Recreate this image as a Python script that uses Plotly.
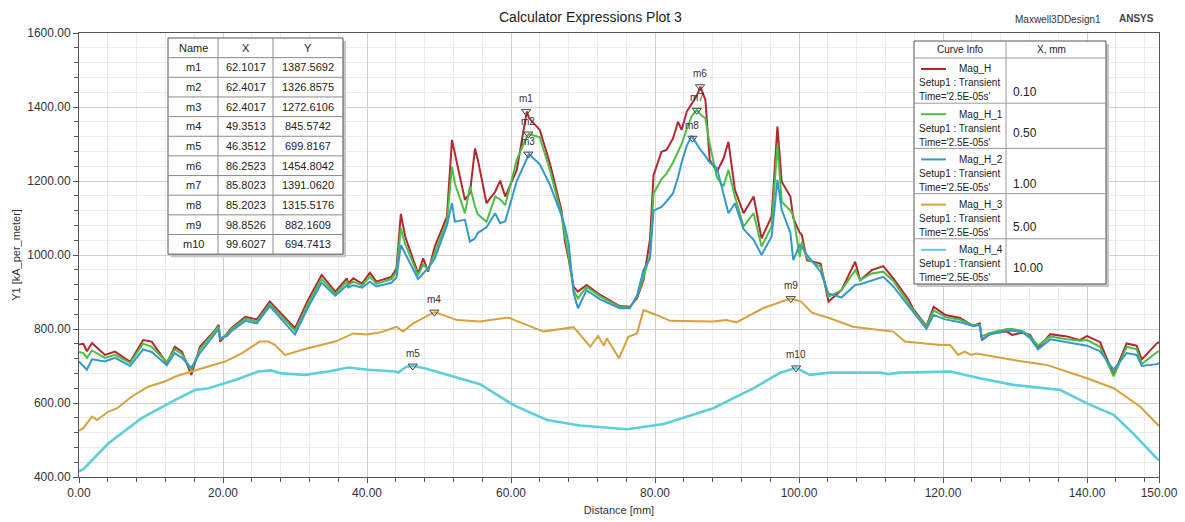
import plotly.graph_objects as go

# ---------------- data ----------------
distance_mm = [0, 0.6, 1.1, 1.8, 3.6, 5.0, 7.1, 8.9, 10.1, 12.2, 13.3, 14.3, 15.6, 16.8, 18.9, 19.4, 19.6,
               20.5, 21.2, 23.1, 24.7, 26.5, 30.0, 31.8, 33.7, 35.6, 37.2, 37.4, 38.1, 39.3, 40.4, 41.3,
               43.4, 44.1, 44.7, 45.3, 47.1, 47.8, 48.5, 49.4, 51.1, 51.8, 52.2, 53.6, 54.3, 55.0, 55.4,
               56.6, 57.8, 58.5, 59.2, 60.8, 62.2, 62.5, 64.0, 65.4, 67.0, 67.5, 68.0, 68.7, 69.3, 70.5,
               72.4, 75.1, 76.5, 77.5, 78.4, 79.3, 79.8, 80.9, 81.6, 82.5, 83.2, 83.7, 84.4, 85.1, 85.8,
               86.3, 87.0, 87.6, 88.6, 89.5, 90.2, 91.1, 92.3, 93.7, 94.8, 96.2, 97.0, 97.6, 98.8, 99.2,
               100.1, 100.4, 101.1, 103.0, 104.1, 105.9, 107.8, 108.5, 110.1, 111.7, 113.1, 115.2, 115.9,
               117.7, 118.7, 120.3, 122.4, 124.2, 125.1, 125.4, 126.6, 128.9, 129.6, 131.0, 132.1, 133.2,
               134.9, 137.2, 139.0, 140.0, 141.8, 143.7, 145.5, 146.9, 147.6, 149.7, 150.0]

mag_h = [758, 760, 740, 762, 730, 739, 711, 770, 766, 707, 752, 739, 676, 752, 797, 811, 766,
         788, 803, 833, 826, 874, 802, 878, 946, 901, 937, 923, 937, 923, 952, 928,
         941, 964, 1111, 1050, 950, 991, 955, 1022, 1104, 1311, 1275, 1149, 1167, 1288, 1257,
         1140, 1171, 1201, 1158, 1230, 1388, 1370, 1338, 1248, 1122, 1036, 990, 914, 901, 919,
         892, 862, 860, 883, 932, 1041, 1216, 1279, 1284, 1315, 1360, 1338, 1387, 1410, 1430,
         1455, 1419, 1257, 1225, 1260, 1306, 1176, 1113, 1158, 1045, 1104, 1347, 1198, 1158, 1100,
         1060, 1054, 986, 977, 874, 905, 982, 932, 959, 970, 937, 880, 853,
         808, 860, 838, 830, 808, 815, 770, 788, 793, 784, 790, 784, 748,
         786, 780, 770, 781, 765, 676, 761, 755, 718, 761, 765]

mag_h_1 = [738, 735, 722, 742, 722, 730, 708, 760, 752, 710, 745, 732, 688, 745, 795, 806, 772,
           785, 800, 828, 820, 868, 795, 868, 935, 895, 928, 918, 928, 918, 942, 922,
           935, 955, 1072, 1030, 945, 975, 960, 1005, 1090, 1239, 1194, 1113, 1185, 1131, 1110,
           1090, 1158, 1150, 1135, 1257, 1320, 1327, 1318, 1230, 1110, 1050, 1000, 905, 883, 914,
           888, 860, 858, 888, 940, 1000, 1167, 1205, 1220, 1250, 1280, 1300, 1340, 1375, 1393,
           1380, 1369, 1300, 1210, 1185, 1230, 1158, 1077, 1113, 1023, 1077, 1297, 1144, 1120, 1108,
           995, 1036, 990, 968, 887, 905, 959, 932, 950, 955, 930, 872, 850,
           805, 851, 832, 825, 810, 812, 780, 790, 800, 800, 795, 780, 755,
           780, 772, 768, 770, 752, 672, 752, 745, 705, 737, 740]

mag_h_2 = [712, 700, 690, 718, 712, 722, 700, 745, 738, 702, 735, 722, 695, 735, 790, 800, 775,
           780, 795, 822, 815, 862, 785, 858, 925, 890, 918, 912, 918, 912, 928, 915,
           925, 940, 1027, 1004, 935, 950, 965, 990, 1080, 1140, 1090, 1095, 1036, 1045, 1060,
           1075, 1113, 1086, 1091, 1200, 1260, 1273, 1245, 1190, 1108, 1075, 1032, 896, 856, 905,
           880, 856, 856, 890, 960, 990, 1120, 1130, 1145, 1167, 1210, 1250, 1295, 1322, 1300,
           1285, 1268, 1250, 1235, 1167, 1113, 1140, 1070, 1041, 1000, 1050, 1203, 1122, 1060, 986,
           1027, 1022, 1000, 955, 896, 885, 919, 921, 930, 941, 915, 862, 845,
           800, 838, 826, 818, 808, 810, 772, 786, 795, 795, 792, 775, 745,
           772, 765, 760, 755, 740, 690, 735, 730, 700, 705, 708]

distance_mm_3 = [0, 0.6, 1.8, 2.5, 4.1, 5.3, 7.3, 9.6, 11.9, 13.3, 15.6, 18.0, 20.3, 22.6, 25.1, 26.3,
                 27.2, 28.6, 31.8, 35.6, 38.1, 40.0, 41.9, 44.1, 45.0, 46.4, 49.4, 52.5, 55.7, 59.6,
                 64.5, 68.7, 71.0, 72.1, 72.9, 73.3, 75.0, 76.3, 77.5, 78.4, 80.2, 82.1, 88.1, 89.9,
                 91.3, 95.0, 98.8, 100.3, 101.8, 104.3, 107.5, 111.2, 113.1, 114.7, 119.6, 121.0,
                 122.1, 123.0, 123.9, 124.6, 129.8, 134.4, 140.0, 143.7, 147.4, 150.0]
mag_h_3 = [525, 532, 563, 554, 577, 586, 617, 644, 658, 671, 685, 698, 712, 734, 766, 766,
           757, 730, 748, 766, 788, 785, 791, 806, 793, 815, 846, 824, 820, 831,
           793, 805, 752, 781, 755, 775, 721, 779, 788, 851, 838, 822, 820, 824,
           818, 856, 882, 874, 844, 829, 806, 797, 793, 766, 757, 757,
           730, 739, 730, 734, 716, 703, 667, 640, 590, 538]

distance_mm_4 = [0, 0.6, 4.1, 8.7, 13.3, 16.1, 18.0, 21.7, 24.9, 26.7, 28.1, 31.4, 34.6, 37.4, 40.2,
                 43.9, 44.3, 45.5, 46.4, 48.0, 55.7, 60.3, 65.0, 69.6, 76.1, 81.2, 88.1, 93.7, 97.4,
                 99.6, 101.5, 104.4, 111.3, 112.4, 114.0, 121.0, 125.1, 129.8, 136.3, 140.0, 143.7,
                 146.4, 149.7, 150.0]
mag_h_4 = [415, 421, 491, 559, 608, 635, 640, 662, 685, 688, 680, 676, 685, 696, 690,
           685, 682, 698, 700, 694, 651, 595, 554, 539, 529, 543, 586, 640, 682,
           695, 676, 682, 682, 678, 682, 685, 667, 649, 635, 599, 568,
           518, 450, 445]

marker_names = ["m1", "m2", "m3", "m4", "m5", "m6", "m7", "m8", "m9", "m10"]
marker_x = [62.1017, 62.4017, 62.4017, 49.3513, 46.3512, 86.2523, 85.8023, 85.2023, 98.8526, 99.6027]
marker_y = [1387.5692, 1326.8575, 1272.6106, 845.5742, 699.8167, 1454.8042, 1391.0620, 1315.5176,
            882.1609, 694.7413]

curve_names = ["Mag_H", "Mag_H_1", "Mag_H_2", "Mag_H_3", "Mag_H_4"]
curve_x_mm = ["0.10", "0.50", "1.00", "5.00", "10.00"]
x_tick_vals = [0, 20, 40, 60, 80, 100, 120, 140, 150]
y_tick_vals = [400, 600, 800, 1000, 1200, 1400, 1600]

# ---------------- style ----------------
colors = ["#B5262E", "#4CBE44", "#3498CE", "#D9A03F", "#5CCFD9"]
widths = [2, 2, 2, 2, 2.6]
FONT = "Arial, Liberation Sans, sans-serif"
W, H = 1185, 522
PL, PT, PW, PH = 79, 33, 1080, 444


def px(x):
    return (x - PL) / PW


def py(y):
    return (PT + PH - y) / PH


def text(x, y, t, size=10, xanchor="center", color="#222222"):
    return dict(x=px(x), y=py(y), xref="paper", yref="paper", text=t, showarrow=False,
                xanchor=xanchor, yanchor="middle", font=dict(family=FONT, size=size, color=color))


fig = go.Figure()
series = [(distance_mm, mag_h), (distance_mm, mag_h_1), (distance_mm, mag_h_2),
          (distance_mm_3, mag_h_3), (distance_mm_4, mag_h_4)]
for (xs, ys), name, c, w in zip(series, curve_names, colors, widths):
    fig.add_trace(go.Scatter(x=xs, y=ys, mode="lines", name=name,
                             line=dict(color=c, width=w), showlegend=False))

fig.add_trace(go.Scatter(x=marker_x, y=marker_y, mode="markers", showlegend=False,
                         marker=dict(symbol="triangle-down-open", size=8,
                                     color="#444444", line=dict(width=1, color="#444444")),
                         cliponaxis=False))

annotations = []
for n, mx, my in zip(marker_names, marker_x, marker_y):
    annotations.append(dict(x=mx, y=my, xref="x", yref="y", text=n, showarrow=False,
                            yanchor="middle", yshift=13, font=dict(family=FONT, size=10, color="#333333")))

shapes = []
# ---- marker table ----
t_left, t_top, t_right = 168, 38, 343
row_h = 19.65
n_rows = len(marker_names) + 1
t_bottom = t_top + row_h * n_rows
col_x = [168, 218, 273, 343]
shapes.append(dict(type="rect", xref="paper", yref="paper", x0=px(t_left + 3), x1=px(t_right + 3),
                   y0=py(t_bottom + 3), y1=py(t_top + 3), fillcolor="#c8c8c8", line=dict(width=0)))
shapes.append(dict(type="rect", xref="paper", yref="paper", x0=px(t_left), x1=px(t_right),
                   y0=py(t_bottom), y1=py(t_top), fillcolor="white", line=dict(color="#555555", width=1)))
for i in range(1, n_rows):
    yy = t_top + row_h * i
    shapes.append(dict(type="line", xref="paper", yref="paper", x0=px(t_left), x1=px(t_right),
                       y0=py(yy), y1=py(yy), line=dict(color="#8a8a8a", width=1)))
for cx in col_x[1:3]:
    shapes.append(dict(type="line", xref="paper", yref="paper", x0=px(cx), x1=px(cx),
                       y0=py(t_top), y1=py(t_bottom), line=dict(color="#8a8a8a", width=1)))
header = ["Name", "X", "Y"]
rows = [header] + [[n, f"{a:.4f}", f"{b:.4f}"] for n, a, b in zip(marker_names, marker_x, marker_y)]
for r, row in enumerate(rows):
    yc = t_top + row_h * (r + 0.5)
    for c, txt in enumerate(row):
        xc = (col_x[c] + col_x[c + 1]) / 2
        annotations.append(text(xc, yc, txt, size=11))

# ---- curve info table ----
L_left, L_top, L_right, L_mid = 914, 41, 1106, 1006
L_head = 58
L_row = 45.2
L_bottom = L_head + L_row * len(curve_names)
shapes.append(dict(type="rect", xref="paper", yref="paper", x0=px(L_left + 3), x1=px(L_right + 3),
                   y0=py(L_bottom + 3), y1=py(L_top + 3), fillcolor="#c8c8c8", line=dict(width=0)))
shapes.append(dict(type="rect", xref="paper", yref="paper", x0=px(L_left), x1=px(L_right),
                   y0=py(L_bottom), y1=py(L_top), fillcolor="white", line=dict(color="#555555", width=1)))
shapes.append(dict(type="line", xref="paper", yref="paper", x0=px(L_mid), x1=px(L_mid),
                   y0=py(L_top), y1=py(L_bottom), line=dict(color="#9a9a9a", width=1)))
for i in range(len(curve_names)):
    yy = L_head + L_row * i
    shapes.append(dict(type="line", xref="paper", yref="paper", x0=px(L_left), x1=px(L_right),
                       y0=py(yy), y1=py(yy), line=dict(color="#9a9a9a", width=1)))
annotations.append(text((L_left + L_mid) / 2, (L_top + L_head) / 2, "Curve Info"))
annotations.append(text((L_mid + L_right) / 2 - 5, (L_top + L_head) / 2, "X, mm"))
value_offsets = [34, 30, 36, 33, 29]
for i, (n, v, c) in enumerate(zip(curve_names, curve_x_mm, colors)):
    top = L_head + L_row * i
    shapes.append(dict(type="line", xref="paper", yref="paper", x0=px(921), x1=px(946),
                       y0=py(top + 11), y1=py(top + 11), line=dict(color=c, width=2)))
    annotations.append(text(957, top + 11, n, xanchor="left"))
    annotations.append(text(917, top + 25, "Setup1 : Transient", xanchor="left"))
    annotations.append(text(917, top + 39, "Time='2.5E-05s'", xanchor="left"))
    annotations.append(text(1011, top + value_offsets[i], v, size=12, xanchor="left"))

# ---- header texts ----
annotations.append(text(590, 17, "Calculator Expressions Plot 3", size=14))
annotations.append(text(1103, 19, "Maxwell3DDesign1", size=10, xanchor="right", color="#333333"))
annotations.append(text(1117, 18, "<b>ANSYS</b>", size=10, xanchor="left", color="#444444"))

fig.update_layout(
    width=W, height=H,
    margin=dict(l=PL, r=W - PL - PW, t=PT, b=H - PT - PH, autoexpand=False),
    paper_bgcolor="white", plot_bgcolor="white",
    font=dict(family=FONT, size=12, color="#333333"),
    shapes=shapes, annotations=annotations,
)
fig.update_xaxes(
    range=[0, 150], tickmode="array", tickvals=x_tick_vals, tickformat=".2f",
    showline=True, linecolor="#555555", linewidth=1, mirror=True,
    ticks="outside", ticklen=5, tickcolor="#555555",
    showgrid=True, gridcolor="#cfcfcf", gridwidth=1, zeroline=False,
    minor=dict(tickmode="linear", tick0=0, dtick=4, ticks="outside", ticklen=4, tickcolor="#555555",
               showgrid=True, gridcolor="#ebebeb", gridwidth=1),
    title=dict(text="Distance [mm]", font=dict(family=FONT, size=11, color="#333333"), standoff=6),
    tickfont=dict(family=FONT, size=12, color="#333333"),
)
fig.update_yaxes(
    range=[400, 1600], tickmode="array", tickvals=y_tick_vals, tickformat=".2f",
    showline=True, linecolor="#555555", linewidth=1, mirror=True,
    ticks="outside", ticklen=5, tickcolor="#555555",
    showgrid=True, gridcolor="#cfcfcf", gridwidth=1, zeroline=False,
    minor=dict(tickmode="linear", tick0=400, dtick=40, ticks="outside", ticklen=4, tickcolor="#555555",
               showgrid=True, gridcolor="#ebebeb", gridwidth=1),
    title=dict(text="Y1 [kA_per_meter]", font=dict(family=FONT, size=11, color="#333333"), standoff=4),
    tickfont=dict(family=FONT, size=12, color="#333333"),
)

fig.write_html("out.html")
